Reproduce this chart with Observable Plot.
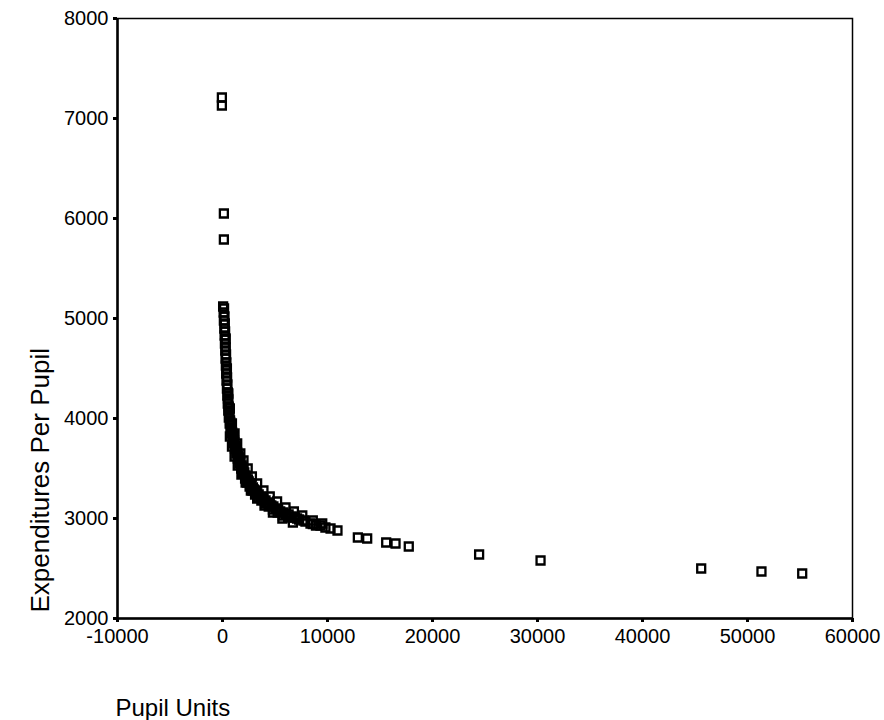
<!DOCTYPE html>
<html>
<head>
<meta charset="utf-8">
<script src="https://cdn.jsdelivr.net/npm/d3@7"></script>
<script src="https://cdn.jsdelivr.net/npm/@observablehq/plot@0.6"></script>
<style>
  html, body { margin: 0; padding: 0; background: #fff; }
  #chart { width: 884px; height: 720px; }
</style>
</head>
<body>
<div id="chart"></div>
<script>
// Pupil units per district (x) and expenditures per pupil (y)
const pupils = [
  -60, -60, 130, 130,
  60, 150, 110, 190, 130, 220, 170, 250, 200, 280, 230, 310, 260, 340, 290, 370,
  320, 400, 350, 440, 380, 470, 420, 510, 460, 560, 500, 610, 550, 660, 600, 720,
  680, 800, 760, 890, 850, 990, 950, 1100, 1050, 1230, 1180, 1360, 1310, 1500,
  1450, 1660, 1600, 1830, 1780, 2010, 1950, 2200, 2150, 2420, 2350, 2650, 2580, 2900,
  2850, 3150, 3100, 3450, 3400, 3750, 3700, 4100, 4050, 4450, 4400, 4850, 4800, 5300,
  5250, 5800, 5750, 6300, 6250, 6900, 7300, 7710, 8380, 8900, 9330, 9800, 10290, 10950,
  300, 420, 560, 700, 900, 1150, 1400, 1700, 2000, 2400, 2800, 3300, 3900, 4500, 5200,
  6000, 6800, 7600, 8600, 9500,
  700, 900, 1150, 1450, 1800, 2200, 2700, 3300, 4000, 4800, 5700, 6700,
  520, 580, 640, 740, 820, 920, 1020, 1130, 1270, 1400, 1550, 1720, 1900, 2080, 2280,
  2500, 2750, 3000, 3300, 3600, 3900, 4250, 4650, 5050, 5500, 6000, 6600, 7100, 7900, 8600,
  12890, 13780, 15590, 16480, 17740, 24440, 30290, 45590, 51330, 55210
];
const expend = [
  7210, 7130, 6050, 5790,
  5120, 5100, 5060, 5020, 4980, 4950, 4900, 4870, 4830, 4790, 4750, 4710, 4680, 4640, 4600, 4560,
  4530, 4490, 4450, 4410, 4380, 4340, 4300, 4260, 4230, 4190, 4150, 4110, 4080, 4040, 4010, 3980,
  3950, 3930, 3900, 3880, 3850, 3830, 3800, 3780, 3750, 3730, 3700, 3680, 3650, 3630,
  3600, 3580, 3550, 3530, 3500, 3480, 3450, 3430, 3400, 3390, 3360, 3350, 3320, 3310,
  3280, 3270, 3240, 3240, 3210, 3210, 3180, 3180, 3150, 3150, 3120, 3120, 3090, 3090,
  3060, 3060, 3030, 3040, 3010, 3010, 2990, 2980, 2950, 2930, 2930, 2910, 2900, 2880,
  4800, 4500, 4250, 4100, 3950, 3850, 3750, 3650, 3580, 3500, 3420, 3350, 3280, 3220, 3170,
  3110, 3070, 3030, 2980, 2950,
  3820, 3720, 3620, 3530, 3440, 3360, 3280, 3200, 3130, 3060, 3000, 2960,
  4200, 4120, 4060, 3960, 3910, 3860, 3810, 3760, 3710, 3660, 3610, 3560, 3510, 3460, 3410,
  3370, 3330, 3290, 3250, 3220, 3190, 3160, 3130, 3100, 3070, 3045, 3020, 3000, 2970, 2945,
  2810, 2800, 2760, 2750, 2720, 2640, 2580, 2500, 2470, 2450
];
const xTicks = [-10000, 0, 10000, 20000, 30000, 40000, 50000, 60000];
const yTicks = [2000, 3000, 4000, 5000, 6000, 7000, 8000];
const xTitle = "Pupil Units";
const yTitle = "Expenditures Per Pupil";

const data = pupils.map((p, i) => ({pupils: p, expend: expend[i]}));

const chart = Plot.plot({
  width: 884,
  height: 720,
  marginLeft: 117,
  marginRight: 32,
  marginTop: 18,
  marginBottom: 102,
  style: {fontFamily: "'Liberation Sans', Arial, sans-serif", background: "#fff", color: "#000"},
  x: {domain: [-10000, 60000]},
  y: {domain: [2000, 8000]},
  marks: [
    Plot.frame({stroke: "#000", strokeWidth: 1.5}),
    Plot.axisX({ticks: xTicks, tickFormat: d => String(d), tickSize: 4, tickPadding: 6, strokeWidth: 3, fontSize: 20, label: null}),
    Plot.axisY({ticks: yTicks, tickFormat: d => String(d), tickSize: 4, tickPadding: 5, strokeWidth: 3, fontSize: 20, label: null}),
    Plot.ruleX([-10000], {stroke: "#000", strokeWidth: 2.5}),
    Plot.ruleY([2000], {stroke: "#000", strokeWidth: 2.5}),
    Plot.dot(data, {x: "pupils", y: "expend", symbol: "square", r: 4.5, stroke: "#000", strokeWidth: 2.3, fill: "none"}),
    Plot.text([yTitle], {frameAnchor: "bottom-left", rotate: -90, textAnchor: "start", lineAnchor: "middle", dx: -77, dy: -6, fontSize: 26, fill: "#000"}),
    Plot.text([xTitle], {frameAnchor: "bottom-left", textAnchor: "start", lineAnchor: "middle", dx: -2, dy: 90, fontSize: 24, fill: "#000"})
  ]
});
document.getElementById("chart").appendChild(chart);
</script>
</body>
</html>
